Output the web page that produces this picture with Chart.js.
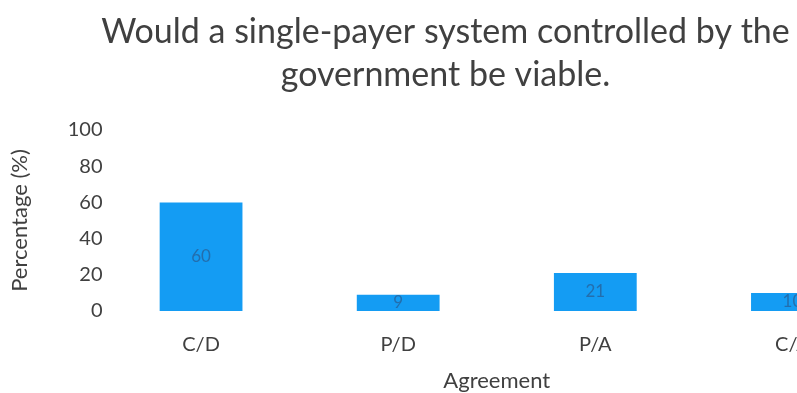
<!DOCTYPE html>
<html>
<head>
<meta charset="utf-8">
<script src="https://cdn.jsdelivr.net/npm/chart.js@4/dist/chart.umd.min.js"></script>
<style>
  html, body { margin: 0; padding: 0; background: #fff; overflow: hidden; }
  #wrap { position: relative; width: 891px; height: 393px; }
</style>
</head>
<body>
<div id="wrap"><canvas id="agreement-chart"></canvas></div>
<script>
// Survey data
const categories = ['C/D', 'P/D', 'P/A', 'C/A'];
const percentages = [60, 9, 21, 10];
const yTicks = [0, 20, 40, 60, 80, 100];

const FONT = "Lato, 'Open Sans', sans-serif";
const TEXT = '#404040';

// Value printed in the middle of each bar
const barValuePlugin = {
    id: 'barValues',
    afterDatasetsDraw(chart) {
        const ctx = chart.ctx;
        const meta = chart.getDatasetMeta(0);
        ctx.save();
        ctx.font = `17px ${FONT}`;
        ctx.fillStyle = 'rgba(40, 95, 150, 0.75)';
        ctx.textAlign = 'center';
        ctx.textBaseline = 'middle';
        meta.data.forEach((bar, i) => {
            const mid = (bar.y + bar.base) / 2;
            ctx.fillText(String(percentages[i]), bar.x, mid);
        });
        ctx.restore();
    }
};

const ctx = document.getElementById('agreement-chart').getContext('2d');
const myChart = new Chart(ctx, {
    type: 'bar',
    data: {
        labels: categories,
        datasets: [{
            data: percentages,
            backgroundColor: '#149cf3',
            borderWidth: 0,
            barPercentage: 0.42,
            categoryPercentage: 1
        }]
    },
    options: {
        responsive: true,
        maintainAspectRatio: false,
        animation: false,
        layout: { padding: { top: 4, left: 0, right: 0, bottom: 0 } },
        plugins: {
            legend: { display: false },
            tooltip: { enabled: false },
            title: {
                display: true,
                text: ['Would a single-payer system controlled by the', 'government be viable.'],
                font: { family: FONT, size: 34, weight: 'normal', lineHeight: 1.25 },
                color: TEXT,
                padding: { top: 7, bottom: 34 }
            }
        },
        scales: {
            y: {
                min: 0,
                max: 100,
                afterBuildTicks(axis) {
                    axis.ticks = yTicks.map(v => ({ value: v }));
                },
                afterFit(axis) {
                    axis.width = 102.5;
                },
                grid: { display: false, drawTicks: false },
                border: { display: false },
                ticks: { color: TEXT, font: { family: FONT, size: 20 }, padding: 0 },
                title: {
                    display: true,
                    text: 'Percentage (%)',
                    color: TEXT,
                    font: { family: FONT, size: 22 },
                    padding: { top: 7, bottom: 0 }
                }
            },
            x: {
                afterFit(axis) {
                    axis.height = 82;
                },
                grid: { display: false, drawTicks: false },
                border: { display: false },
                ticks: { color: TEXT, font: { family: FONT, size: 20 }, padding: 22 },
                title: {
                    display: true,
                    text: 'Agreement',
                    color: TEXT,
                    font: { family: FONT, size: 22, lineHeight: 1 },
                    padding: { top: 0, bottom: 1 }
                }
            }
        }
    },
    plugins: [barValuePlugin]
});
</script>
</body>
</html>
